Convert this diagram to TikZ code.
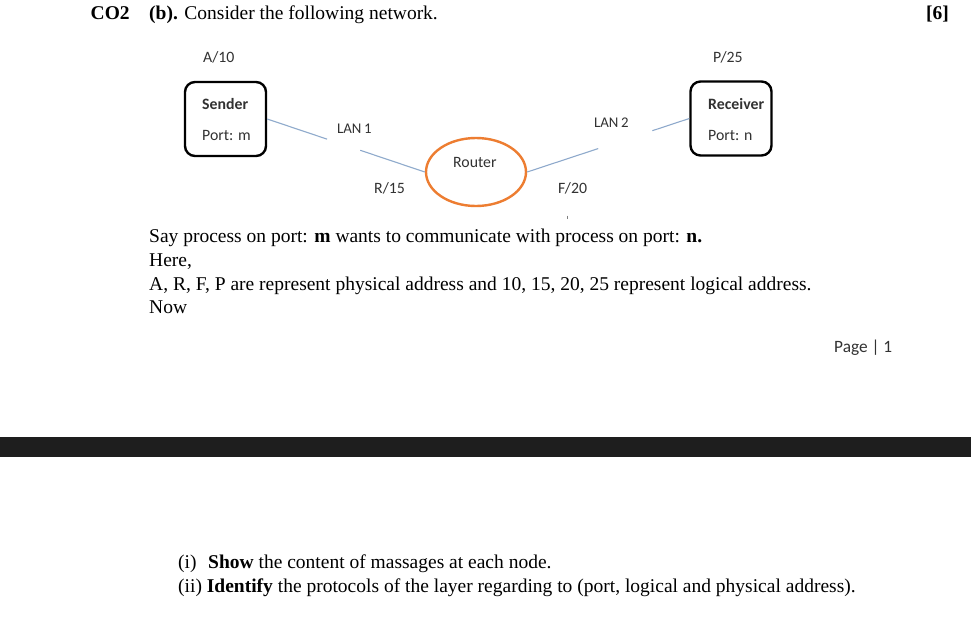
\documentclass[tikz,border=0pt]{standalone}
\usepackage{fontspec}
\setmainfont{Liberation Serif}
\newfontfamily\calfont{Carlito}
\usetikzlibrary{calc,shapes.geometric}
\definecolor{routerorange}{RGB}{237,125,49}
\definecolor{linkblue}{RGB}{143,170,204}
\definecolor{barcolor}{RGB}{30,30,30}
\definecolor{lbltext}{RGB}{50,50,50}
\begin{document}
\begin{tikzpicture}[x=1pt,y=-1pt,
  body/.style={font=\fontsize{19.5}{23}\selectfont, anchor=base west, inner sep=0pt},
  lbl/.style={font=\calfont\fontsize{15.8}{18}\selectfont, text=lbltext, anchor=base west, inner sep=0pt},
  lblb/.style={font=\calfont\bfseries\fontsize{15.8}{18}\selectfont, text=lbltext, anchor=base west, inner sep=0pt},
  hostbox/.style={draw=black, line width=2.4pt, rounded corners=10pt, minimum width=81pt, minimum height=74pt, inner sep=0pt},
  routershape/.style={draw=routerorange, line width=2.4pt, ellipse, minimum width=100pt, minimum height=68pt, inner sep=0pt},
  link/.style={draw=linkblue, line width=1.1pt}]
\useasboundingbox (0,0) rectangle (971,624);
\fill[white] (0,0) rectangle (971,624);
% header
\node[body] (co) at (90.5,19) {\bfseries CO2};
\node[body] (title) at (149,19) {\textbf{(b).} Consider the following network.};
\node[body, anchor=base east] (marks) at (949,19) {\bfseries [6]};
% network
\node[hostbox] (snd) at (225.5,119) {};
\node[hostbox] (rcv) at (731,118.5) {};
\node[routershape] (rtr) at (476,172) {};
\node[lbl] (a10) at (203,62) {A/10};
\node[lbl] (p25) at (713,62) {P/25};
\node[lblb] (sndname) at (202,109) {Sender};
\node[lbl] (sndport) at (202,140) {Port: m};
\node[lblb] (rcvname) at (708,109) {Receiver};
\node[lbl] (rcvport) at (708,140) {Port: n};
\node[lbl] (rtrname) at (453,167) {Router};
\node[lbl, font=\calfont\fontsize{14.8}{17}\selectfont] (lan1) at (337,133) {LAN\,1};
\node[lbl, font=\calfont\fontsize{14.8}{17}\selectfont] (lan2) at (594,127) {LAN\,2};
\node[lbl] (r15) at (374,193) {R/15};
\node[lbl] (f20) at (558,193) {F/20};
\draw[link] (snd.east) -- ($(snd.east)!0.38!(rtr.west)$);
\draw[link] ($(snd.east)!0.59!(rtr.west)$) -- (rtr.west);
\draw[link] (rtr.east) -- ($(rtr.east)!0.438!(rcv.west)$);
\draw[link] ($(rtr.east)!0.772!(rcv.west)$) -- (rcv.west);
\coordinate (tickA) at (567.5,215.5);
\coordinate (tickB) at (567.5,218.5);
\draw[gray, line width=0.8pt] (tickA) -- (tickB);
% text
\node[body] (l1) at (149,242) {Say process on port: \textbf{m} wants to communicate with process on port: \textbf{n.}};
\node[body] (l2) at (149,266) {Here,};
\node[body] (l3) at (149,290) {A, R, F, P are represent physical address and 10, 15, 20, 25 represent logical address.};
\node[body] (l4) at (149,313) {Now};
\node[lbl, font=\calfont\fontsize{17.3}{20}\selectfont] (page) at (834,352) {Page | 1};
\fill[barcolor] (0,437) rectangle (971,457);
\node[body] (q1n) at (178,568) {(i)};
\node[body] (q1) at (208,568) {\textbf{Show} the content of massages at each node.};
\node[body] (q2) at (178,592) {(ii) \textbf{Identify} the protocols of the layer regarding to (port, logical and physical address).};
\end{tikzpicture}
\end{document}
